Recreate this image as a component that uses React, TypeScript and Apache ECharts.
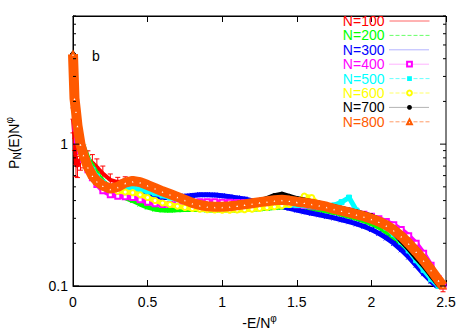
import React, { useEffect, useRef } from "react";
import * as echarts from "echarts";

const xs = [0, 0.01, 0.02, 0.03, 0.05, 0.07, 0.1, 0.13, 0.16, 0.2, 0.25, 0.3, 0.35, 0.4, 0.45, 0.5, 0.55, 0.6, 0.65, 0.7, 0.75, 0.8, 0.85, 0.9, 0.95, 1.0, 1.05, 1.1, 1.15, 1.2, 1.25, 1.3, 1.35, 1.4, 1.45, 1.5, 1.55, 1.6, 1.65, 1.7, 1.75, 1.8, 1.85, 1.9, 1.95, 2.0, 2.05, 2.1, 2.15, 2.2, 2.25, 2.3, 2.35, 2.4, 2.45, 2.48];

const n100 = [1.5, 1.1, 0.72, 0.7, 0.78, 0.8, 0.78, 0.74, 0.69, 0.62, 0.56, 0.54, 0.55, 0.55, 0.535, 0.51, 0.485, 0.46, 0.44, 0.425, 0.41, 0.395, 0.382, 0.372, 0.366, 0.364, 0.366, 0.37, 0.375, 0.38, 0.386, 0.392, 0.396, 0.398, 0.396, 0.39, 0.384, 0.377, 0.37, 0.36, 0.35, 0.34, 0.33, 0.32, 0.31, 0.298, 0.284, 0.266, 0.246, 0.222, 0.198, 0.172, 0.15, 0.128, 0.108, 0.099];
const n100Err = [0.2, 0.18, 0.18, 0.17, 0.16, 0.15, 0.15, 0.14, 0.14, 0.13, 0.1, 0.08, 0.07, 0.06, 0.06, 0.05, 0.05, 0.05, 0.05, 0.04, 0.04, 0.04, 0.04, 0.04, 0.04, 0.04, 0.04, 0.04, 0.04, 0.04, 0.04, 0.04, 0.04, 0.04, 0.04, 0.04, 0.04, 0.04, 0.04, 0.04, 0.04, 0.04, 0.04, 0.04, 0.04, 0.05, 0.05, 0.05, 0.05, 0.06, 0.06, 0.07, 0.07, 0.08, 0.08, 0.08];
const n200 = [3.5, 2.3, 1.6, 1.35, 1.1, 0.95, 0.8, 0.7, 0.62, 0.55, 0.49, 0.45, 0.42, 0.4, 0.378, 0.36, 0.348, 0.343, 0.342, 0.344, 0.346, 0.347, 0.346, 0.344, 0.343, 0.344, 0.345, 0.344, 0.346, 0.348, 0.35, 0.353, 0.357, 0.36, 0.361, 0.357, 0.353, 0.35, 0.345, 0.338, 0.33, 0.32, 0.31, 0.3, 0.288, 0.275, 0.26, 0.24, 0.218, 0.195, 0.17, 0.146, 0.125, 0.11, 0.098, 0.095];
const n300 = [3.0, 2.1, 1.6, 1.3, 1.05, 0.88, 0.72, 0.62, 0.55, 0.5, 0.46, 0.45, 0.455, 0.46, 0.45, 0.435, 0.425, 0.42, 0.42, 0.425, 0.43, 0.435, 0.44, 0.44, 0.438, 0.432, 0.425, 0.418, 0.41, 0.4, 0.392, 0.383, 0.373, 0.363, 0.353, 0.343, 0.334, 0.326, 0.318, 0.31, 0.302, 0.293, 0.284, 0.274, 0.263, 0.25, 0.235, 0.218, 0.2, 0.18, 0.16, 0.14, 0.122, 0.108, 0.097, 0.094];
const n400 = [3.4, 1.9, 1.3, 1.05, 0.9, 0.78, 0.66, 0.58, 0.52, 0.47, 0.44, 0.43, 0.425, 0.42, 0.405, 0.39, 0.38, 0.375, 0.375, 0.38, 0.385, 0.39, 0.392, 0.393, 0.392, 0.39, 0.389, 0.388, 0.387, 0.386, 0.385, 0.384, 0.383, 0.381, 0.378, 0.374, 0.37, 0.366, 0.362, 0.357, 0.351, 0.345, 0.338, 0.33, 0.321, 0.31, 0.298, 0.285, 0.27, 0.25, 0.226, 0.2, 0.17, 0.14, 0.112, 0.1];
const n500 = [4.0, 2.4, 1.8, 1.45, 1.12, 0.92, 0.76, 0.66, 0.59, 0.535, 0.5, 0.49, 0.49, 0.49, 0.48, 0.465, 0.45, 0.435, 0.42, 0.41, 0.4, 0.39, 0.38, 0.372, 0.365, 0.36, 0.355, 0.352, 0.35, 0.352, 0.356, 0.36, 0.365, 0.37, 0.372, 0.372, 0.37, 0.367, 0.365, 0.365, 0.37, 0.39, 0.42, 0.34, 0.315, 0.298, 0.28, 0.258, 0.232, 0.205, 0.178, 0.152, 0.13, 0.112, 0.1, 0.096];
const n600 = [3.8, 2.3, 1.75, 1.4, 1.08, 0.88, 0.72, 0.63, 0.565, 0.52, 0.48, 0.465, 0.46, 0.455, 0.44, 0.42, 0.4, 0.385, 0.375, 0.365, 0.358, 0.352, 0.348, 0.345, 0.343, 0.342, 0.342, 0.343, 0.345, 0.348, 0.352, 0.357, 0.362, 0.368, 0.375, 0.39, 0.43, 0.42, 0.372, 0.36, 0.35, 0.34, 0.33, 0.32, 0.308, 0.295, 0.28, 0.262, 0.24, 0.215, 0.19, 0.165, 0.142, 0.122, 0.105, 0.098];
const n700 = [4.3, 2.0, 1.6, 1.3, 1.0, 0.83, 0.68, 0.6, 0.55, 0.51, 0.49, 0.505, 0.53, 0.545, 0.535, 0.51, 0.485, 0.46, 0.44, 0.42, 0.405, 0.39, 0.378, 0.37, 0.368, 0.37, 0.372, 0.378, 0.385, 0.39, 0.398, 0.41, 0.43, 0.44, 0.425, 0.41, 0.4, 0.39, 0.38, 0.37, 0.36, 0.35, 0.34, 0.33, 0.32, 0.31, 0.29, 0.265, 0.24, 0.21, 0.185, 0.16, 0.14, 0.12, 0.103, 0.097];
const n800 = [4.3, 2.1, 1.7, 1.35, 1.0, 0.84, 0.69, 0.6, 0.55, 0.51, 0.485, 0.5, 0.535, 0.55, 0.54, 0.515, 0.49, 0.465, 0.445, 0.425, 0.405, 0.385, 0.372, 0.365, 0.362, 0.362, 0.365, 0.37, 0.376, 0.383, 0.39, 0.396, 0.402, 0.405, 0.4, 0.393, 0.387, 0.38, 0.372, 0.362, 0.35, 0.34, 0.33, 0.32, 0.31, 0.298, 0.285, 0.268, 0.248, 0.225, 0.2, 0.175, 0.152, 0.13, 0.11, 0.1];

const seriesNames = ["N=100", "N=200", "N=300", "N=400", "N=500", "N=600", "N=700", "N=800"];
const seriesValues = [n100, n200, n300, n400, n500, n600, n700, n800];
const seriesColors = ["#ff0000", "#00ff00", "#0000ff", "#ff00ff", "#00ffff", "#ffff00", "#000000", "#ff5a00"];
const seriesSymbols = [
  "path://M0,5L10,5M5,0L5,10",
  "path://M0,0L10,10M10,0L0,10",
  "path://M0,0L10,10M10,0L0,10M5,0L5,10",
  "emptyRect",
  "rect",
  "emptyCircle",
  "circle",
  "emptyTriangle",
];
const seriesWidths = [4, 5, 5, 5, 5, 5, 6, 10];
const legendLineTypes = ["solid", "dashed", "dotted", "dotted", "dashed", "dashed", "dotted", "dashed"];

const xTicks = [0, 0.5, 1, 1.5, 2, 2.5];
const yMajorTicks = [0.1, 1];
const yMinorTicks = [0.2, 0.3, 0.4, 0.5, 0.6, 0.7, 0.8, 0.9, 2, 3, 4, 5, 6, 7, 8];

const FONT = "Liberation Sans, Arial, Helvetica, sans-serif";

export default function App() {
  const ref = useRef<HTMLDivElement>(null);
  useEffect(() => {
    if (!ref.current) return;
    const chart = echarts.init(ref.current, null, { renderer: "svg" });

    const lineSeries = seriesNames.map((name, i) => ({
      name,
      type: "line",
      data: xs.map((x, j) => [x, seriesValues[i][j]]),
      symbol: seriesSymbols[i],
      symbolSize: 5,
      showSymbol: true,
      itemStyle: { color: seriesColors[i], borderColor: seriesColors[i] },
      lineStyle: { color: seriesColors[i], width: seriesWidths[i] },
      z: 2 + i,
    }));

    const errSeries = {
      type: "custom",
      name: "err100",
      data: xs.map((x, j) => [x, n100[j], n100[j] * n100Err[j]]),
      renderItem: (params: any, api: any) => {
        const x = api.value(0);
        const y = api.value(1);
        const e = api.value(2);
        const top = api.coord([x, y + e]);
        const bot = api.coord([x, Math.max(y - e, 0.0001)]);
        return {
          type: "group",
          children: [
            { type: "line", shape: { x1: top[0], y1: top[1], x2: bot[0], y2: bot[1] }, style: { stroke: "#ff0000", lineWidth: 1 } },
            { type: "line", shape: { x1: top[0] - 2.5, y1: top[1], x2: top[0] + 2.5, y2: top[1] }, style: { stroke: "#ff0000", lineWidth: 1 } },
            { type: "line", shape: { x1: bot[0] - 2.5, y1: bot[1], x2: bot[0] + 2.5, y2: bot[1] }, style: { stroke: "#ff0000", lineWidth: 1 } },
          ],
        };
      },
      z: 2,
      silent: true,
    };

    const tickData = [
      ...yMajorTicks.map((v) => [0, v, 6]),
      ...yMinorTicks.map((v) => [0, v, 3]),
    ];
    const tickSeries = {
      type: "custom",
      name: "yticks",
      data: tickData,
      clip: false,
      silent: true,
      z: 20,
      renderItem: (params: any, api: any) => {
        const v = api.value(1);
        const len = api.value(2);
        const l = api.coord([0, v]);
        const r = api.coord([2.5, v]);
        return {
          type: "group",
          children: [
            { type: "line", shape: { x1: l[0], y1: l[1], x2: l[0] + len, y2: l[1] }, style: { stroke: "#000", lineWidth: 1 } },
            { type: "line", shape: { x1: r[0] - len, y1: r[1], x2: r[0], y2: r[1] }, style: { stroke: "#000", lineWidth: 1 } },
          ],
        };
      },
    };

    const xAxisBase = {
      type: "value",
      min: xTicks[0],
      max: xTicks[xTicks.length - 1],
      interval: 0.5,
      splitLine: { show: false },
      axisLine: { show: true, lineStyle: { color: "#000", width: 1 } },
      axisTick: { show: true, inside: true, length: 6, lineStyle: { color: "#000" } },
    };

    chart.setOption({
      animation: false,
      backgroundColor: "#fff",
      textStyle: { fontFamily: FONT },
      grid: {
        left: 73, right: 25, top: 16, bottom: 44,
        containLabel: false,
        outerBoundsMode: "none",
        show: true, borderColor: "#000", borderWidth: 1, backgroundColor: "transparent",
      },
      xAxis: [
        {
          ...xAxisBase,
          position: "bottom",
          axisLabel: { color: "#000", fontSize: 14, fontFamily: FONT, margin: 9 },
          name: "-E/N{sup|φ}",
          nameLocation: "middle",
          nameGap: 27,
          nameTextStyle: {
            color: "#000",
            fontSize: 14,
            fontFamily: FONT,
            rich: { sup: { fontSize: 10, fontFamily: FONT, color: "#000", padding: [0, 0, 9, 0] } },
          },
        },
        { ...xAxisBase, position: "top", axisLabel: { show: false } },
      ],
      yAxis: {
        type: "log",
        logBase: 10,
        min: 0.1,
        max: 8,
        splitLine: { show: false },
        minorSplitLine: { show: false },
        axisLine: { show: true, lineStyle: { color: "#000" } },
        axisTick: { show: false },
        axisLabel: {
          color: "#000",
          fontSize: 14,
          fontFamily: FONT,
          margin: 5,
          showMaxLabel: false,
          formatter: (v: number) => {
            if (Math.abs(v - 0.1) < 1e-6) return "0.1";
            if (Math.abs(v - 1) < 1e-6) return "1";
            return "";
          },
        },
        name: "P{sub|N}(E)N{sup|φ}",
        nameLocation: "middle",
        nameGap: 50,
        nameRotate: 90,
        nameTextStyle: {
          color: "#000",
          fontSize: 14,
          fontFamily: FONT,
          padding: [0, 0, 0, 16],
          rich: {
            sub: { fontSize: 10, fontFamily: FONT, color: "#000", padding: [8, 0, 0, 0] },
            sup: { fontSize: 10, fontFamily: FONT, color: "#000", padding: [0, 0, 9, 0] },
          },
        },
      },
      legend: {
        show: true,
        orient: "vertical",
        right: 41,
        top: 14,
        padding: 0,
        align: "right",
        itemWidth: 40,
        itemHeight: 6,
        itemGap: 0.4,
        selectedMode: false,
        textStyle: { fontSize: 14, fontFamily: FONT, lineHeight: 14 },
        data: seriesNames.map((name, i) => ({
          name,
          textStyle: { color: seriesColors[i], fontSize: 14, fontFamily: FONT, lineHeight: 14 },
          lineStyle: { width: 1, type: legendLineTypes[i], color: seriesColors[i], opacity: 0.6 },
        })),
      },
      graphic: [
        { type: "text", left: 92, top: 49, style: { text: "b", fontSize: 14, fontFamily: FONT, fill: "#000" } },
      ],
      series: [errSeries, ...lineSeries, tickSeries],
    });
    return () => chart.dispose();
  }, []);
  return <div ref={ref} style={{ width: 471, height: 330, position: "absolute", left: 0, top: 0 }} />;
}
